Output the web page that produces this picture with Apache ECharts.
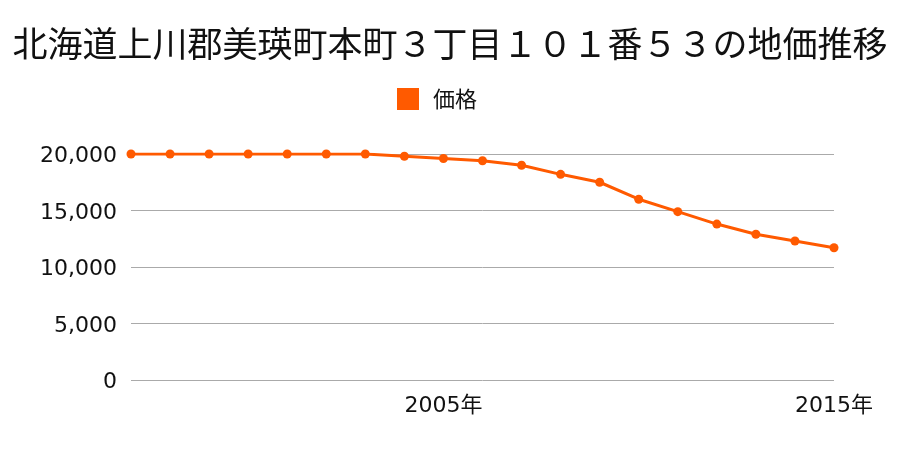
<!DOCTYPE html>
<html>
<head>
<meta charset="utf-8">
<script src="https://cdn.jsdelivr.net/npm/echarts@6/dist/echarts.min.js"></script>
<style>html,body{margin:0;padding:0;background:#fff;}#c{width:900px;height:450px;}</style>
</head>
<body>
<div id="c"></div>
<script>
const years = ['1997','1998','1999','2000','2001','2002','2003','2004','2005','2006','2007','2008','2009','2010','2011','2012','2013','2014','2015'];
const prices = [20000,20000,20000,20000,20000,20000,20000,19800,19600,19400,19000,18200,17500,16000,14900,13800,12900,12300,11700];
const yTicks = [0,5000,10000,15000,20000];
const shownYears = ['2005','2015'];
const title = '北海道上川郡美瑛町本町３丁目１０１番５３の地価推移';
const seriesName = '価格';

const font = '"Noto Sans CJK JP", "Noto Sans", sans-serif';
const numFont = '"DejaVu Sans", "Noto Sans CJK JP", sans-serif';
const chart = echarts.init(document.getElementById('c'), null, {renderer: 'canvas'});
chart.setOption({
  animation: false,
  textStyle: {fontFamily: font},
  title: {
    text: title, left: 'center', top: 21,
    textStyle: {fontSize: 35, fontWeight: 'normal', color: '#111', fontFamily: font}
  },
  legend: {
    data: [seriesName], top: 83, left: 392,
    icon: 'rect', itemWidth: 22, itemHeight: 22, itemGap: 10,
    textStyle: {fontSize: 22, color: '#111', fontFamily: font, padding: [0, 0, 0, 9]}
  },
  grid: {left: 131, right: 66, top: 154, bottom: 70, containLabel: false},
  xAxis: {
    type: 'category', data: years, boundaryGap: false,
    axisLine: {show: false}, axisTick: {show: false},
    axisLabel: {
      interval: (i, v) => shownYears.includes(v),
      formatter: v => v + '年', fontSize: 22, color: '#111', margin: 15, fontFamily: numFont
    },
    splitLine: {show: false}
  },
  yAxis: {
    type: 'value', min: 0, max: 20000, interval: 5000,
    axisLine: {show: false}, axisTick: {show: false},
    axisLabel: {
      fontSize: 22, color: '#111', margin: 14, fontFamily: numFont,
      formatter: v => yTicks.includes(v) ? '{a|' + v.toLocaleString('en-US') + '}' : '',
      rich: {a: {fontSize: 22, fontFamily: numFont, color: '#111', padding: [5, 0, 0, 0]}}
    },
    splitLine: {lineStyle: {color: '#aaaaaa', width: 1}}
  },
  series: [{
    name: seriesName, type: 'line', data: prices,
    symbol: 'circle', symbolSize: 9,
    lineStyle: {color: '#ff5a00', width: 3},
    itemStyle: {color: '#ff5a00'}
  }]
});
</script>
</body>
</html>
